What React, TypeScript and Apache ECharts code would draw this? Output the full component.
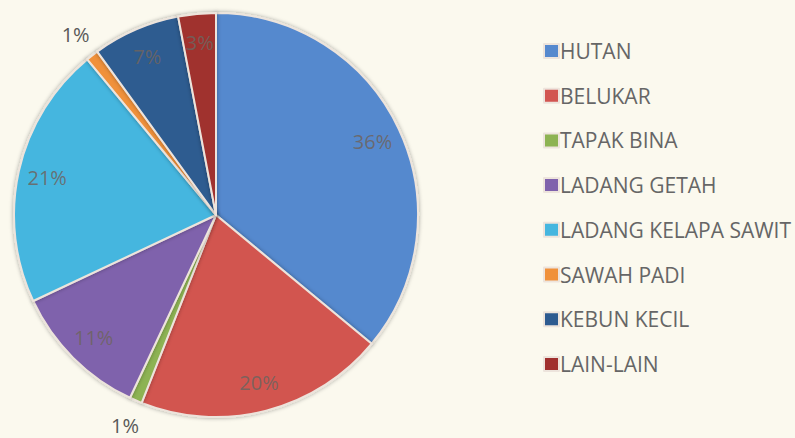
import React, { useEffect, useRef } from "react";
import * as echarts from "echarts";

const categories = [
  "HUTAN",
  "BELUKAR",
  "TAPAK BINA",
  "LADANG GETAH",
  "LADANG KELAPA SAWIT",
  "SAWAH PADI",
  "KEBUN KECIL",
  "LAIN-LAIN",
];
const values = [36, 20, 1, 11, 21, 1, 7, 3];
const colors = [
  "#5589CE",
  "#D25550",
  "#8DB352",
  "#7F62AC",
  "#45B6DF",
  "#F0913A",
  "#2D5B90",
  "#A0302E",
];

export default function App() {
  const ref = useRef<HTMLDivElement>(null);
  useEffect(() => {
    if (!ref.current) return;
    const chart = echarts.init(ref.current, undefined, { renderer: "svg" });
    const font = "'Open Sans', 'Noto Sans', sans-serif";
    const mainData = categories.map((name, i) => ({
      name,
      value: values[i],
      itemStyle: { color: colors[i] },
    }));
    const innerLabelData = categories.map((name, i) => ({
      name,
      value: values[i],
      label: { show: values[i] > 1 },
    }));
    const outerLabelData = categories.map((name, i) => ({
      name,
      value: values[i],
      label: { show: values[i] <= 1 },
    }));
    chart.setOption({
      animation: false,
      backgroundColor: "#FBF9EE",
      legend: {
        orient: "vertical",
        left: 538,
        top: 35.5,
        itemWidth: 15,
        itemHeight: 14,
        itemGap: 23.7,
        icon: "rect",
        data: categories,
        textStyle: {
          color: "#666666",
          fontSize: 21,
          lineHeight: 21,
          fontFamily: font,
          padding: [0, 0, 0, -4],
        },
      },
      series: [
        {
          type: "pie",
          name: "main",
          center: [216, 215],
          radius: [0, 202],
          startAngle: 90,
          clockwise: true,
          silent: true,
          itemStyle: {
            borderColor: "#EDE4DC",
            borderWidth: 2,
            shadowBlur: 4,
            shadowColor: "rgba(0,0,0,0.35)",
          },
          label: { show: false },
          labelLine: { show: false },
          data: mainData,
        },
        {
          type: "pie",
          name: "innerLabels",
          center: [216, 215],
          radius: [150, 190],
          startAngle: 90,
          clockwise: true,
          silent: true,
          itemStyle: { color: "rgba(0,0,0,0)" },
          label: {
            position: "inside",
            formatter: "{d}%",
            color: "rgba(110,100,95,0.85)",
            fontSize: 20,
            fontFamily: font,
          },
          labelLine: { show: false },
          data: innerLabelData,
        },
        {
          type: "pie",
          name: "outerLabels",
          center: [216, 215],
          radius: [216, 236],
          startAngle: 90,
          clockwise: true,
          silent: true,
          itemStyle: { color: "rgba(0,0,0,0)" },
          label: {
            position: "inside",
            formatter: "{d}%",
            color: "#595959",
            fontSize: 20,
            fontFamily: font,
          },
          labelLine: { show: false },
          data: outerLabelData,
        },
      ],
    });
    return () => chart.dispose();
  }, []);
  return (
    <div
      ref={ref}
      style={{ position: "fixed", left: 0, top: 0, width: 795, height: 438 }}
    />
  );
}
